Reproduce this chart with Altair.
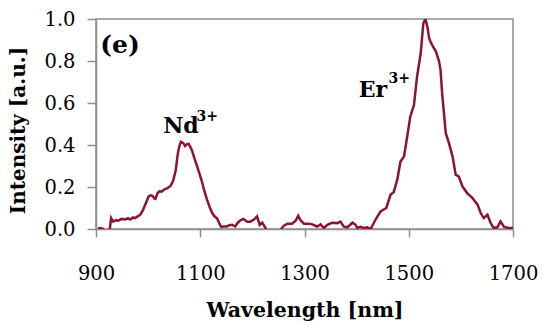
import altair as alt
import pandas as pd

wavelength = [904, 910, 914, 918, 924, 926, 929, 933, 938, 943, 949, 956, 961, 966, 971, 975, 980, 985,
              990, 996, 1001, 1005, 1008, 1012, 1014, 1018, 1022, 1026, 1030, 1037, 1043, 1048, 1053,
              1057, 1060, 1063, 1067, 1071, 1075, 1078, 1081, 1084, 1089, 1094, 1099, 1104, 1108, 1113,
              1118, 1123, 1128, 1132, 1136, 1140, 1145, 1151, 1156, 1161, 1167, 1172, 1177, 1183, 1190,
              1196, 1203, 1209, 1214, 1219, 1225, 1230, 1245, 1254, 1260, 1267, 1276, 1283, 1288, 1292,
              1299, 1308, 1315, 1324, 1331, 1337, 1344, 1353, 1363, 1369, 1375, 1382, 1392, 1398, 1401,
              1407, 1414, 1420, 1427, 1436, 1446, 1457, 1465, 1471, 1478, 1484, 1491, 1497, 1503, 1510,
              1516, 1523, 1528, 1532, 1536, 1539, 1542, 1548, 1552, 1558, 1561, 1564, 1571, 1577, 1584,
              1590, 1596, 1603, 1612, 1622, 1632, 1638, 1644, 1651, 1657, 1663, 1670, 1676, 1683, 1692,
              1700]
intensity = [0.004, 0.004, 0.0, -0.02, -0.02, -0.01, 0.052, 0.035, 0.042, 0.04, 0.048, 0.045, 0.052,
             0.045, 0.055, 0.052, 0.06, 0.068, 0.09, 0.125, 0.155, 0.16, 0.158, 0.145, 0.143, 0.17,
             0.18, 0.178, 0.187, 0.195, 0.205, 0.23, 0.28, 0.36, 0.395, 0.415, 0.41, 0.395, 0.405,
             0.405, 0.39, 0.375, 0.335, 0.298, 0.26, 0.219, 0.18, 0.14, 0.105, 0.076, 0.058, 0.052,
             0.03, 0.01, 0.012, 0.012, 0.018, 0.02, 0.012, 0.03, 0.041, 0.048, 0.035, 0.035, 0.045,
             0.06, 0.02, 0.03, 0.005, -0.02, -0.02, -0.005, 0.015, 0.025, 0.025, 0.04, 0.063, 0.043,
             0.025, 0.025, 0.022, 0.012, 0.022, 0.005, 0.02, 0.03, 0.028, 0.035, 0.012, 0.008, 0.03,
             0.02, 0.005, 0.01, 0.005, 0.008, 0.0, 0.044, 0.084, 0.1, 0.163, 0.175, 0.235, 0.32, 0.346,
             0.44, 0.536, 0.59, 0.727, 0.838, 0.98, 1.0, 0.96, 0.91, 0.89, 0.862, 0.846, 0.8, 0.758,
             0.648, 0.457, 0.41, 0.346, 0.259, 0.25, 0.203, 0.171, 0.148, 0.116, 0.076, 0.052, 0.068,
             0.029, 0.005, 0.008, 0.036, 0.01, 0.005, 0.005]

x_ticks = [900, 1100, 1300, 1500, 1700]
y_ticks = [0.0, 0.2, 0.4, 0.6, 0.8, 1.0]

panel_label = ["(e)"]
panel_x = [908]
panel_y = [0.84]

ion_labels = ["Nd", "Er"]
ion_x = [1029, 1404]
ion_y = [0.459, 0.63]

sup_labels = ["3+", "3+"]
sup_x = [1093, 1461]
sup_y = [0.516, 0.697]

df = pd.DataFrame({"wavelength": wavelength, "intensity": intensity})
df_panel = pd.DataFrame({"x": panel_x, "y": panel_y, "t": panel_label})
df_ion = pd.DataFrame({"x": ion_x, "y": ion_y, "t": ion_labels})
df_sup = pd.DataFrame({"x": sup_x, "y": sup_y, "t": sup_labels})

GRAY = "#8f8f8f"

xscale = alt.Scale(domain=[900, 1700], nice=False, zero=False)
yscale = alt.Scale(domain=[0, 1], nice=False)

xaxis = alt.Axis(values=x_ticks, format="d", title="Wavelength [nm]", grid=False, tickSize=8,
                 tickColor=GRAY, domainColor=GRAY, tickWidth=1.5, domainWidth=1.5,
                 labelFont="DejaVu Serif", labelFontSize=19.5, labelColor="black",
                 labelPadding=27, labelFlush=False, labelOverlap=False,
                 titleFont="DejaVu Serif", titleFontWeight="bold", titleFontSize=20.5,
                 titleColor="black", titleY=87, titleBaseline="alphabetic")
yaxis = alt.Axis(values=y_ticks, format=".1f", title="Intensity [a.u.]", grid=False, tickSize=9,
                 tickColor=GRAY, domainColor=GRAY, tickWidth=1.5, domainWidth=1.5,
                 labelFont="DejaVu Serif", labelFontSize=19.5, labelColor="black",
                 labelPadding=12, labelFlush=False, labelOverlap=False,
                 titleFont="DejaVu Serif", titleFontWeight="bold", titleFontSize=20,
                 titleColor="black", titleX=-72, titleY=111, titleAngle=270,
                 titleBaseline="alphabetic", titleAlign="center")

line = alt.Chart(df).mark_line(color="#8b1530", strokeWidth=2.5, clip=True).encode(
    x=alt.X("wavelength:Q", scale=xscale, axis=xaxis),
    y=alt.Y("intensity:Q", scale=yscale, axis=yaxis),
)

panel = alt.Chart(df_panel).mark_text(align="left", baseline="alphabetic", font="DejaVu Serif",
                                      fontWeight="bold", fontSize=25, color="black").encode(
    x=alt.X("x:Q", scale=xscale), y=alt.Y("y:Q", scale=yscale), text="t:N")

ions = alt.Chart(df_ion).mark_text(align="left", baseline="alphabetic", font="DejaVu Serif",
                                   fontWeight="bold", fontSize=22, color="black").encode(
    x=alt.X("x:Q", scale=xscale), y=alt.Y("y:Q", scale=yscale), text="t:N")

sups = alt.Chart(df_sup).mark_text(align="left", baseline="alphabetic", font="DejaVu Serif",
                                   fontWeight="bold", fontSize=14, color="black").encode(
    x=alt.X("x:Q", scale=xscale), y=alt.Y("y:Q", scale=yscale), text="t:N")

chart = alt.layer(line, panel, ions, sups).properties(
    width=417, height=210,
    autosize=alt.AutoSizeParams(type="none"),
    padding={"left": 96, "top": 19, "right": 29, "bottom": 102},
    background="white",
).configure_view(stroke=GRAY, strokeWidth=1.5)

chart.save("out.html", embed_options={"renderer": "svg", "actions": False})
